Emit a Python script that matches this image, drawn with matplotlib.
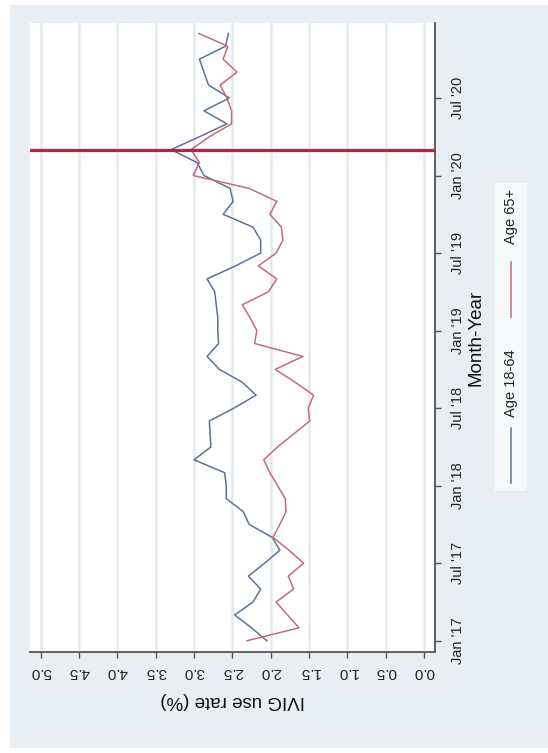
import numpy as np
import matplotlib.pyplot as plt
from matplotlib.patches import Rectangle
from matplotlib.lines import Line2D

plt.rcParams['font.family'] = ['Liberation Sans', 'DejaVu Sans']

# monthly IVIG use rate (%), Jan 2017 .. Dec 2020
months = np.arange(48)
age_18_64 = [2.05, 2.25, 2.47, 2.23, 2.13, 2.29, 2.08, 1.88, 1.98, 2.28,
             2.36, 2.58, 2.58, 2.60, 3.00, 2.78, 2.79, 2.80, 2.48, 2.19,
             2.37, 2.67, 2.83, 2.68, 2.69, 2.69, 2.71, 2.73, 2.83, 2.46,
             2.13, 2.13, 2.23, 2.62, 2.49, 2.53, 2.87, 2.96, 3.30, 2.93,
             2.57, 2.87, 2.54, 2.81, 2.87, 2.93, 2.59, 2.55]
age_65_plus = [2.31, 1.63, 1.78, 1.93, 1.70, 1.77, 1.57, 1.76, 1.97, 1.88,
               1.80, 1.81, 1.91, 2.01, 2.09, 1.91, 1.70, 1.49, 1.51, 1.44,
               1.68, 1.94, 1.58, 2.21, 2.18, 2.27, 2.37, 2.03, 1.92, 2.16,
               1.93, 1.84, 1.86, 2.01, 1.92, 2.28, 3.01, 2.93, 3.04, 2.80,
               2.51, 2.51, 2.57, 2.66, 2.44, 2.62, 2.56, 2.94]

month_ticks = [0, 6, 12, 18, 24, 30, 36, 42]
month_labels = ["Jan '17", "Jul '17", "Jan '18", "Jul '18",
                "Jan '19", "Jul '19", "Jan '20", "Jul '20"]
rate_ticks = np.arange(0, 5.01, 0.5)
cutoff_month = 38  # Mar 2020

blue = '#5f7292'
red = '#c46b7a'
W, H = 548, 753

fig = plt.figure(figsize=(W / 100, H / 100), dpi=100)
fig.patch.set_facecolor('white')
fig.patches.append(Rectangle((10 / W, 1 - 748 / H), 538 / W, 743 / H,
                             transform=fig.transFigure, facecolor='#e8eef1',
                             edgecolor='none', zorder=-2))

# chart is laid out sideways: rate runs right-to-left, months run upward
ax = fig.add_axes([30 / W, 1 - 652 / H, 405 / W, 629 / H])
ax.set_facecolor('white')
ax.plot(age_18_64, months, color=blue, lw=1.1, zorder=3)
ax.plot(age_65_plus, months, color=red, lw=1.1, zorder=3)
ax.axhline(cutoff_month, color='#b32446', lw=2.3, zorder=4)

ax.set_xlim(5.14, -0.144)
ax.set_ylim(-0.87, 47.8)

ax.set_xticks(rate_ticks, [f'{v:.1f}' for v in rate_ticks])
ax.grid(axis='x', color='#e3eaee', lw=1.8, zorder=0)
ax.tick_params(axis='x', labelrotation=180, length=4.5, width=1,
               color='#555555', pad=5, labelsize=11, labelcolor='#222222')
ax.set_xlabel('IVIG use rate (%)', rotation=180, fontsize=13.5,
              labelpad=9, color='#111111')

ax.yaxis.tick_right()
ax.yaxis.set_label_position('right')
ax.set_yticks(month_ticks, month_labels)
ax.tick_params(axis='y', labelrotation=90, length=4.5, width=1,
               color='#555555', pad=7, labelsize=10.5, labelcolor='#222222')
for lab in ax.get_yticklabels():
    lab.set_va('center')
ax.set_ylabel('Month-Year', rotation=90, fontsize=13.5, labelpad=2,
              color='#111111')

for side in ['left', 'top']:
    ax.spines[side].set_visible(False)
for side in ['right', 'bottom']:
    ax.spines[side].set_color('#555555')
    ax.spines[side].set_linewidth(1.3)

# legend box, rotated with the chart
fig.patches.append(Rectangle((495 / W, 1 - 491 / H), 32 / W, 308 / H,
                             transform=fig.transFigure, facecolor='#f6f9fa',
                             edgecolor='none', zorder=-1))
lx = 511 / W
fig.add_artist(Line2D([lx, lx], [1 - 483 / H, 1 - 428 / H], color=blue, lw=1.1))
fig.text(lx, 1 - 383 / H, 'Age 18-64', rotation=90, ha='center', va='center',
         fontsize=10.5, color='#222222')
fig.add_artist(Line2D([lx, lx], [1 - 317 / H, 1 - 262 / H], color=red, lw=1.1))
fig.text(lx, 1 - 216 / H, 'Age 65+', rotation=90, ha='center', va='center',
         fontsize=10.5, color='#222222')

fig.savefig('out.png', dpi=100)
